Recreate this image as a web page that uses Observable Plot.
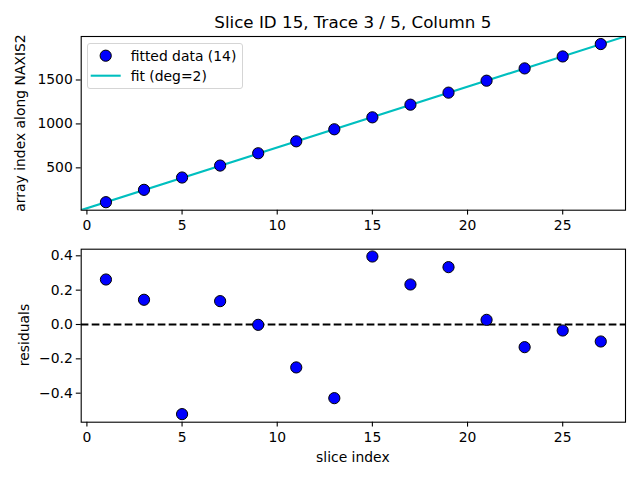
<!DOCTYPE html>
<html><head><meta charset="utf-8">
<script src="https://cdn.jsdelivr.net/npm/d3@7"></script>
<script src="https://cdn.jsdelivr.net/npm/@observablehq/plot@0.6"></script>
<style>
body{margin:0;background:#fff;font-family:"DejaVu Sans",sans-serif;}
#wrap{position:relative;width:640px;height:480px;overflow:hidden;background:#fff;}
.abs{position:absolute;white-space:nowrap;color:#000;font-family:"DejaVu Sans",sans-serif;}
.plot{position:absolute;left:0;}
.plot text{fill:#000;}
.plot [aria-label$="tick"] path, .plot g[aria-label$="tick"]{stroke-width:1.1px;}
</style></head><body><div id="wrap"></div>
<script>
// ---- data ----
const sliceIndex = [1, 3, 5, 7, 9, 11, 13, 15, 17, 19, 21, 23, 25, 27];
const arrayIndex = [109, 250, 390, 526, 666, 802, 939, 1075, 1219, 1356, 1492, 1632, 1768, 1909];
const residuals = [0.262, 0.144, -0.522, 0.136, -0.002, -0.250, -0.429, 0.396, 0.233, 0.334, 0.027, -0.132, -0.035, -0.099];
const fitX = [-0.3, 28.3];
const fitY = [19, 1997];
const xTicks = [0, 5, 10, 15, 20, 25];
const yTicksTop = [500, 1000, 1500];
const yTicksBottom = [-0.4, -0.2, 0.0, 0.2, 0.4];

const title = "Slice ID 15, Trace 3 / 5, Column 5";
const topYLabel = "array index along NAXIS2";
const bottomYLabel = "residuals";
const xLabel = "slice index";
const legendLabels = ["fitted data (14)", "fit (deg=2)"];

const pts = sliceIndex.map((x, i) => ({x, y: arrayIndex[i], r: residuals[i]}));
const fitPts = fitX.map((x, i) => ({x, y: fitY[i]}));

const wrap = document.getElementById("wrap");
const style = {fontFamily: "DejaVu Sans", fontSize: "13.9px", color: "#000", background: "transparent", overflow: "visible"};
const xDomain = [-0.3, 28.3];

const topPlot = Plot.plot({
  width: 640, height: 240,
  marginLeft: 80.7, marginRight: 15, marginTop: 36, marginBottom: 30.3,
  style,
  x: {domain: xDomain, ticks: xTicks, tickSize: 4.9, tickPadding: 5.5, label: null},
  y: {domain: [18, 1995], ticks: yTicksTop, tickSize: 4.9, tickPadding: 3.5, tickFormat: d3.format("d"), label: null},
  marks: [
    Plot.line(fitPts, {x: "x", y: "y", stroke: "#00bfbf", strokeWidth: 2.08, clip: true}),
    Plot.dot(pts, {x: "x", y: "y", r: 5.6, fill: "#0000ff", stroke: "#000", strokeWidth: 1}),
    Plot.frame({stroke: "#000", strokeWidth: 1.1})
  ]
});
topPlot.classList.add("plot");
topPlot.style.position = "absolute";
topPlot.style.top = "0px";
wrap.appendChild(topPlot);

const bottomPlot = Plot.plot({
  width: 640, height: 240,
  marginLeft: 80.7, marginRight: 15, marginTop: 8.7, marginBottom: 58.3,
  style,
  x: {domain: xDomain, ticks: xTicks, tickSize: 4.9, tickPadding: 5.5, label: null},
  y: {domain: [-0.569, 0.4385], ticks: yTicksBottom, tickSize: 4.9, tickPadding: 3.5, tickFormat: d3.format(".1f"), label: null},
  marks: [
    Plot.ruleY([0], {stroke: "#000", strokeWidth: 2.08, strokeDasharray: "7.7,3.3"}),
    Plot.dot(pts, {x: "x", y: "r", r: 5.6, fill: "#0000ff", stroke: "#000", strokeWidth: 1}),
    Plot.frame({stroke: "#000", strokeWidth: 1.1})
  ]
});
bottomPlot.classList.add("plot");
bottomPlot.style.position = "absolute";
bottomPlot.style.top = "240px";
wrap.appendChild(bottomPlot);

function addText(txt, css) {
  const d = document.createElement("div");
  d.className = "abs";
  d.textContent = txt;
  Object.assign(d.style, css);
  wrap.appendChild(d);
  return d;
}
// title
addText(title, {left: "80.7px", width: "544.3px", textAlign: "center", top: "12px", fontSize: "16.7px", lineHeight: "20px"});
// axis labels
addText(topYLabel, {left: "20px", top: "123px", fontSize: "13.9px", lineHeight: "16px", transform: "translate(-50%,-50%) rotate(-90deg)"});
addText(bottomYLabel, {left: "24px", top: "335px", fontSize: "13.9px", lineHeight: "16px", transform: "translate(-50%,-50%) rotate(-90deg)"});
addText(xLabel, {left: "80.7px", width: "544.3px", textAlign: "center", top: "449px", fontSize: "13.9px", lineHeight: "16px"});

// legend
const lg = document.createElement("div");
lg.className = "abs";
Object.assign(lg.style, {left: "87.3px", top: "43.3px", width: "154px", height: "43.5px", border: "1px solid #d5d5d5", borderRadius: "3px", background: "rgba(255,255,255,0.8)"});
lg.innerHTML = `<svg width="156" height="46" style="position:absolute;left:-1px;top:-1px;overflow:visible">
<circle cx="18.7" cy="12.7" r="5.6" fill="#0000ff" stroke="#000" stroke-width="1"></circle>
<line x1="3.7" x2="33.7" y1="32.7" y2="32.7" stroke="#00bfbf" stroke-width="2.08"></line></svg>`;
wrap.appendChild(lg);
addText(legendLabels[0], {left: "130.7px", top: "48px", fontSize: "13.9px", lineHeight: "16px"});
addText(legendLabels[1], {left: "130.7px", top: "68px", fontSize: "13.9px", lineHeight: "16px"});
</script></body></html>
